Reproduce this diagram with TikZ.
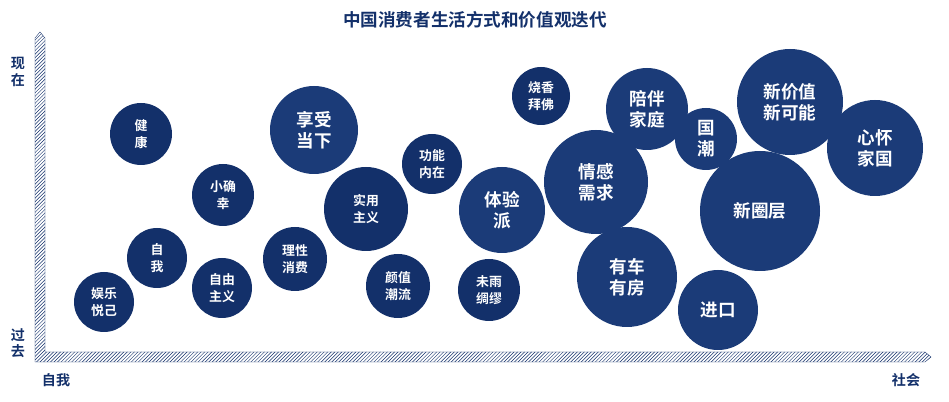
\documentclass[tikz,border=0pt]{standalone}
\usepackage{fontspec}
\setmainfont{Noto Sans CJK SC}[BoldFont={Noto Sans CJK SC Bold}]
\usetikzlibrary{patterns}
\definecolor{navy}{HTML}{13306A}
\definecolor{navyb}{HTML}{1B3B78}
\tikzset{
 bub/.style={circle,fill=navy,text=white,font=\bfseries\fontsize{11}{14}\selectfont,align=center,inner sep=0pt},
 bigb/.style={bub,fill=navyb,font=\bfseries\fontsize{15}{18}\selectfont},
 axlab/.style={text=navy,font=\bfseries\fontsize{12}{14}\selectfont,align=center},
 hatch/.style={pattern=north east lines,pattern color=navy,draw=navy,line width=0.3pt}
}
\begin{document}
\begin{tikzpicture}[x=0.03cm,y=-0.03cm]
\useasboundingbox (0,0) rectangle (949,402);
\node[text=navy,font=\bfseries\fontsize{15}{18}\selectfont] (title) at (475,20) {中国消费者生活方式和价值观迭代};
\path[hatch] (35,362) -- (35,38) -- (40,32) -- (45,38) -- (45,352) -- (925,352) -- (931,357) -- (925,362) -- cycle;
\node[axlab] (now) at (18,72) {现\\在};
\node[axlab] (past) at (18,343) {过\\去};
\node[axlab] (self) at (56,380) {自我};
\node[axlab] (soc) at (906,380) {社会};
\newcommand{\bb}[5]{\node[#1,minimum size=#4*0.03cm] (#5) at (#2) {#3};}
\bb{bub}{104,302}{娱乐\\悦己}{60}{b1}
\bb{bub}{157,258}{自\\我}{60}{b2}
\bb{bub}{141,134}{健\\康}{62}{b3}
\bb{bub}{223,195}{小确\\幸}{62}{b4}
\bb{bub}{222,288}{自由\\主义}{60}{b5}
\bb{bub}{295,259}{理性\\消费}{64}{b6}
\bb{bigb}{314,130}{享受\\当下}{88}{b7}
\bb{bub}{366,209}{实用\\主义}{84}{b8}
\bb{bub}{398,286}{颜值\\潮流}{64}{b9}
\bb{bub}{432,164}{功能\\内在}{60}{b10}
\bb{bub}{489,290}{未雨\\绸缪}{62}{b11}
\bb{bigb}{502,210}{体验\\派}{86}{b12}
\bb{bub}{541,96}{烧香\\拜佛}{58}{b13}
\bb{bigb}{596,182}{情感\\需求}{104}{b14}
\bb{bigb}{647,109}{陪伴\\家庭}{82}{b15}
\bb{bigb}{627,277}{有车\\有房}{100}{b16}
\bb{bigb}{706,139}{国\\潮}{62}{b17}
\bb{bigb}{760,211}{新圈层}{120}{b18}
\bb{bigb}{718,310}{进口}{80}{b19}
\bb{bigb}{790,102}{新价值\\新可能}{106}{b20}
\bb{bigb}{875,148}{心怀\\家国}{96}{b21}
\end{tikzpicture}
\end{document}
